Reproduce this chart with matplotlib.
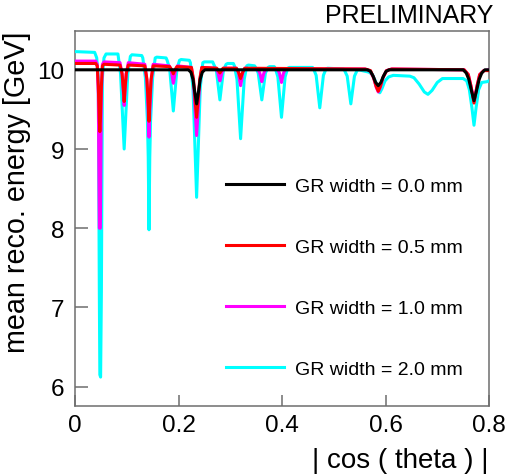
import matplotlib
matplotlib.use("Agg")
import matplotlib.pyplot as plt

plt.rcParams['font.family'] = ['Liberation Sans', 'DejaVu Sans']

labels = ["GR width = 0.0 mm", "GR width = 0.5 mm", "GR width = 1.0 mm", "GR width = 2.0 mm"]
colors = ["#000000", "#ff0000", "#ff00ff", "#00ffff"]

# GR width = 0.0 mm
x_00 = [0.000, 0.219, 0.224, 0.228, 0.231, 0.235, 0.239, 0.242, 0.246, 0.251,
        0.565, 0.571, 0.576, 0.581, 0.586, 0.591, 0.596, 0.601, 0.607,
        0.750, 0.756, 0.761, 0.766, 0.771, 0.776, 0.781, 0.786, 0.792, 0.800]
y_00 = [10.00, 10.00, 9.97, 9.88, 9.74, 9.57, 9.74, 9.88, 9.97, 10.00,
        10.00, 9.98, 9.92, 9.84, 9.80, 9.84, 9.92, 9.98, 10.00,
        10.00, 9.96, 9.88, 9.74, 9.61, 9.74, 9.88, 9.96, 10.00, 10.00]

# GR width = 0.5 mm
x_05 = [0.000, 0.040, 0.043, 0.045, 0.047, 0.048, 0.049, 0.051, 0.053, 0.056,
        0.087, 0.091, 0.0935, 0.095, 0.0965, 0.099, 0.103,
        0.135, 0.139, 0.1415, 0.143, 0.1445, 0.147, 0.151,
        0.183, 0.187, 0.190, 0.193, 0.197,
        0.225, 0.229, 0.232, 0.235, 0.238, 0.241, 0.245,
        0.274, 0.280, 0.286,
        0.312, 0.316, 0.318, 0.320, 0.322, 0.324, 0.328,
        0.561, 0.571, 0.577, 0.582, 0.586, 0.590, 0.595, 0.602, 0.612,
        0.752, 0.760, 0.765, 0.771, 0.777, 0.782, 0.790, 0.800]
y_05 = [10.08, 10.08, 10.05, 9.80, 9.35, 9.22, 9.35, 9.80, 10.05, 10.07,
        10.06, 9.95, 9.75, 9.60, 9.75, 9.95, 10.06,
        10.05, 9.88, 9.58, 9.35, 9.58, 9.88, 10.05,
        10.04, 10.00, 9.95, 10.00, 10.04,
        10.03, 9.88, 9.62, 9.40, 9.62, 9.88, 10.03,
        10.02, 9.96, 10.02,
        10.02, 9.97, 9.93, 9.89, 9.93, 9.97, 10.02,
        10.01, 9.99, 9.90, 9.79, 9.73, 9.79, 9.90, 9.99, 10.01,
        10.00, 9.94, 9.80, 9.58, 9.80, 9.94, 9.99, 9.99]

# GR width = 1.0 mm
x_10 = [0.000, 0.040, 0.043, 0.045, 0.047, 0.049, 0.051, 0.053, 0.056,
        0.087, 0.091, 0.0935, 0.095, 0.0965, 0.099, 0.103,
        0.135, 0.139, 0.1415, 0.143, 0.1445, 0.147, 0.151,
        0.182, 0.186, 0.188, 0.190, 0.192, 0.194, 0.198,
        0.225, 0.229, 0.232, 0.235, 0.238, 0.241, 0.245,
        0.272, 0.276, 0.278, 0.280, 0.282, 0.284, 0.288,
        0.312, 0.316, 0.318, 0.320, 0.322, 0.324, 0.328,
        0.353, 0.357, 0.359, 0.361, 0.363, 0.365, 0.369,
        0.391, 0.395, 0.397, 0.399, 0.401, 0.403, 0.407,
        0.560, 0.570, 0.577, 0.582, 0.586, 0.590, 0.595, 0.602, 0.612,
        0.752, 0.760, 0.765, 0.771, 0.777, 0.782, 0.790, 0.800]
y_10 = [10.11, 10.11, 10.07, 9.70, 8.00, 8.00, 9.70, 10.07, 10.10,
        10.09, 9.95, 9.70, 9.55, 9.70, 9.95, 10.09,
        10.07, 9.85, 9.45, 9.15, 9.45, 9.85, 10.07,
        10.05, 9.99, 9.90, 9.83, 9.90, 9.99, 10.05,
        10.03, 9.85, 9.50, 9.17, 9.50, 9.85, 10.03,
        10.02, 9.97, 9.91, 9.86, 9.91, 9.97, 10.02,
        10.02, 9.96, 9.87, 9.80, 9.87, 9.96, 10.02,
        10.01, 9.96, 9.91, 9.85, 9.91, 9.96, 10.01,
        10.01, 9.96, 9.90, 9.84, 9.90, 9.96, 10.01,
        10.01, 9.99, 9.90, 9.78, 9.72, 9.78, 9.90, 9.99, 10.01,
        10.00, 9.94, 9.80, 9.60, 9.80, 9.94, 9.99, 10.00]

# GR width = 2.0 mm
x_20 = [0.000, 0.038, 0.042, 0.045, 0.047, 0.048, 0.0495, 0.051, 0.053, 0.056, 0.060,
        0.083, 0.088, 0.092, 0.095, 0.098, 0.102, 0.107, 0.110,
        0.129, 0.131, 0.136, 0.140, 0.1415, 0.143, 0.1445, 0.146, 0.150, 0.155, 0.158,
        0.176, 0.178, 0.183, 0.187, 0.190, 0.193, 0.197, 0.202, 0.205,
        0.221, 0.223, 0.228, 0.232, 0.235, 0.238, 0.242, 0.247, 0.250,
        0.266, 0.268, 0.273, 0.277, 0.280, 0.283, 0.287, 0.292, 0.295,
        0.306, 0.308, 0.313, 0.317, 0.320, 0.323, 0.327, 0.332, 0.335,
        0.347, 0.349, 0.354, 0.358, 0.361, 0.364, 0.368, 0.373, 0.376,
        0.385, 0.387, 0.392, 0.396, 0.399, 0.402, 0.406, 0.411, 0.414,
        0.459, 0.461, 0.466, 0.470, 0.473, 0.476, 0.480, 0.485, 0.488,
        0.519, 0.521, 0.526, 0.530, 0.533, 0.536, 0.540, 0.545, 0.548,
        0.568, 0.575, 0.581, 0.586, 0.589, 0.593, 0.599, 0.606, 0.615,
        0.647, 0.655, 0.665, 0.675, 0.682, 0.690, 0.700, 0.710, 0.750,
        0.757, 0.762, 0.767, 0.771, 0.775, 0.780, 0.786, 0.796, 0.800]
y_20 = [10.23, 10.22, 10.15, 9.90, 7.20, 6.15, 6.12, 7.20, 9.90, 10.15, 10.20,
        10.20, 9.95, 9.42, 9.00, 9.42, 9.95, 10.17, 10.19,
        10.18, 10.15, 9.90, 9.35, 8.90, 7.98, 8.90, 9.35, 9.90, 10.15, 10.16,
        10.15, 10.12, 10.01, 9.71, 9.48, 9.71, 10.01, 10.12, 10.13,
        10.12, 10.09, 9.77, 8.99, 8.39, 8.99, 9.77, 10.09, 10.10,
        10.10, 10.07, 10.00, 9.78, 9.62, 9.78, 10.00, 10.07, 10.08,
        10.08, 10.05, 9.88, 9.46, 9.13, 9.46, 9.88, 10.05, 10.06,
        10.05, 10.03, 9.96, 9.77, 9.62, 9.77, 9.96, 10.03, 10.04,
        10.04, 10.02, 9.91, 9.62, 9.40, 9.62, 9.91, 10.02, 10.03,
        10.03, 10.01, 9.93, 9.70, 9.52, 9.70, 9.93, 10.01, 10.02,
        10.01, 9.99, 9.92, 9.72, 9.57, 9.72, 9.92, 9.99, 10.00,
        9.97, 9.94, 9.85, 9.74, 9.71, 9.76, 9.86, 9.91, 9.93,
        9.92, 9.90, 9.82, 9.72, 9.69, 9.74, 9.84, 9.89, 9.89,
        9.86, 9.75, 9.52, 9.30, 9.52, 9.75, 9.84, 9.85, 9.86]

fig = plt.figure(figsize=(5.08, 4.77), dpi=100)
ax = fig.add_axes([75/508, 70/477, (489-75)/508, (407-32)/477])

series = [(x_00, y_00), (x_05, y_05), (x_10, y_10), (x_20, y_20)]
handles = []
for i, (xs, ys) in enumerate(series):
    ln, = ax.plot(xs, ys, color=colors[i], lw=2.2, zorder=10 - i, label=labels[i],
                  solid_joinstyle='round')
    handles.append(ln)

ax.set_xlim(0, 0.8)
ax.set_ylim(5.755, 10.49)
ax.set_xticks([0, 0.2, 0.4, 0.6, 0.8])
ax.set_xticklabels(["0", "0.2", "0.4", "0.6", "0.8"])
ax.set_yticks([6, 7, 8, 9, 10])

spine_col = '#6e6e6e'
for s in ax.spines.values():
    s.set_color(spine_col)
    s.set_linewidth(1.1)
ax.tick_params(axis='both', direction='in', colors=spine_col, labelcolor='black',
               labelsize=17.5, width=1.1)
ax.tick_params(axis='y', length=9.5, pad=8)
ax.tick_params(axis='x', length=8, pad=6)

ax.set_xlabel("| cos ( theta ) |", fontsize=20, loc='right', labelpad=8)
ax.set_ylabel("mean reco. energy [GeV]", fontsize=20.7, loc='top', labelpad=4)

fig.text(493/508, 1 - 16/477, "PRELIMINARY", fontsize=18, ha='right', va='center')

ax.legend(handles=handles, loc='upper left', bbox_to_anchor=(0.345, 0.631),
          frameon=False, fontsize=14, handlelength=3.0, handletextpad=0.55,
          labelspacing=2.23, borderaxespad=0)

fig.savefig("out.png", dpi=100)
